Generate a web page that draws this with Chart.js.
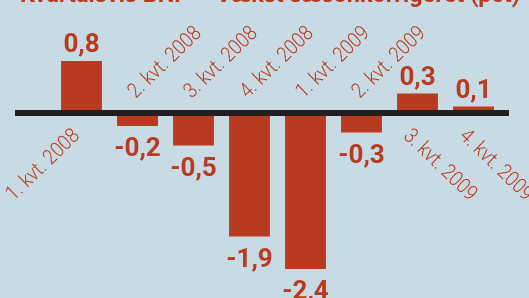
<!DOCTYPE html>
<html>
<head>
<meta charset="utf-8">
<script src="https://cdn.jsdelivr.net/npm/chart.js@4"></script>
<style>
  html, body { margin: 0; padding: 0; background: #c8dbe4; overflow: hidden; }
  #wrap { position: relative; width: 529px; height: 298px; }
</style>
</head>
<body>
<div id="wrap"><canvas id="bnpChart" width="529" height="298"></canvas></div>
<script>
// Chart data
const chartTitle = "Kvartalsvis BNP – Vækst sæsonkorrigeret (pct)";
const categories = ["1. kvt. 2008", "2. kvt. 2008", "3. kvt. 2008", "4. kvt. 2008",
  "1. kvt. 2009", "2. kvt. 2009", "3. kvt. 2009", "4. kvt. 2009"];
const growth = [0.8, -0.2, -0.5, -1.9, -2.4, -0.3, 0.3, 0.1];

const RED = "#b83a1f";
const INK = "#231f20";

function fmt(v) {
  return v.toFixed(1).replace(".", ",");
}

// title is cut off at the top of the picture, only its lower part shows
const titlePlugin = {
  id: "cutTitle",
  afterDraw(chart) {
    const ctx = chart.ctx;
    ctx.save();
    ctx.fillStyle = RED;
    ctx.font = "bold 24px Roboto";
    ctx.textAlign = "left";
    ctx.textBaseline = "alphabetic";
    ctx.fillText(chartTitle, 20, 2, 500);
    ctx.restore();
  },
};

// thick zero line, reaching past the first and last bar
const zeroLine = {
  id: "zeroLine",
  afterDatasetsDraw(chart) {
    const { ctx, chartArea, scales } = chart;
    const y0 = scales.y.getPixelForValue(0);
    ctx.save();
    ctx.fillStyle = INK;
    ctx.fillRect(chartArea.left - 38.5, y0 - 3, chartArea.right - chartArea.left + 46, 6);
    ctx.restore();
  },
};

// value labels and slanted quarter labels
const barLabels = {
  id: "barLabels",
  afterDatasetsDraw(chart) {
    const { ctx, scales } = chart;
    const y0 = scales.y.getPixelForValue(0);
    const meta = chart.getDatasetMeta(0);
    const ang = 44 * Math.PI / 180;
    ctx.save();
    ctx.fillStyle = RED;
    meta.data.forEach((bar, i) => {
      const v = growth[i];
      const x = bar.x;
      // value
      ctx.font = "bold 26px Roboto";
      ctx.textAlign = "center";
      ctx.textBaseline = "alphabetic";
      if (v >= 0) ctx.fillText(fmt(v), x, bar.y - 9);
      else ctx.fillText(fmt(v), x, bar.y + 30);

      // category, a bit narrowed like the original's condensed face
      ctx.font = "300 21px Roboto";
      ctx.save();
      if (v < 0) {
        ctx.translate(x - 2, y0 - 14);
        ctx.rotate(-ang);
        ctx.textAlign = "left";
      } else if (i < categories.length / 2) {
        ctx.translate(x - 1, y0 + 24);
        ctx.rotate(-ang);
        ctx.textAlign = "right";
      } else {
        ctx.translate(x - 15, y0 + 24);
        ctx.rotate(ang);
        ctx.textAlign = "left";
      }
      ctx.scale(0.88, 1);
      ctx.fillText(categories[i], 0, 0);
      ctx.restore();
    });
    ctx.restore();
  },
};

new Chart(document.getElementById("bnpChart"), {
  type: "bar",
  data: {
    labels: categories,
    datasets: [{
      label: "BNP vækst",
      data: growth,
      backgroundColor: RED,
      borderWidth: 0,
      barPercentage: 0.73,
      categoryPercentage: 1,
    }],
  },
  options: {
    responsive: false,
    animation: false,
    layout: { padding: { left: 53.5, right: 27.5, top: 9, bottom: 9.5 } },
    plugins: {
      legend: { display: false },
      tooltip: { enabled: false },
    },
    scales: {
      x: { display: false },
      y: { display: false, min: -2.7, max: 1.6 },
    },
  },
  plugins: [zeroLine, barLabels, titlePlugin],
});
</script>
</body>
</html>
